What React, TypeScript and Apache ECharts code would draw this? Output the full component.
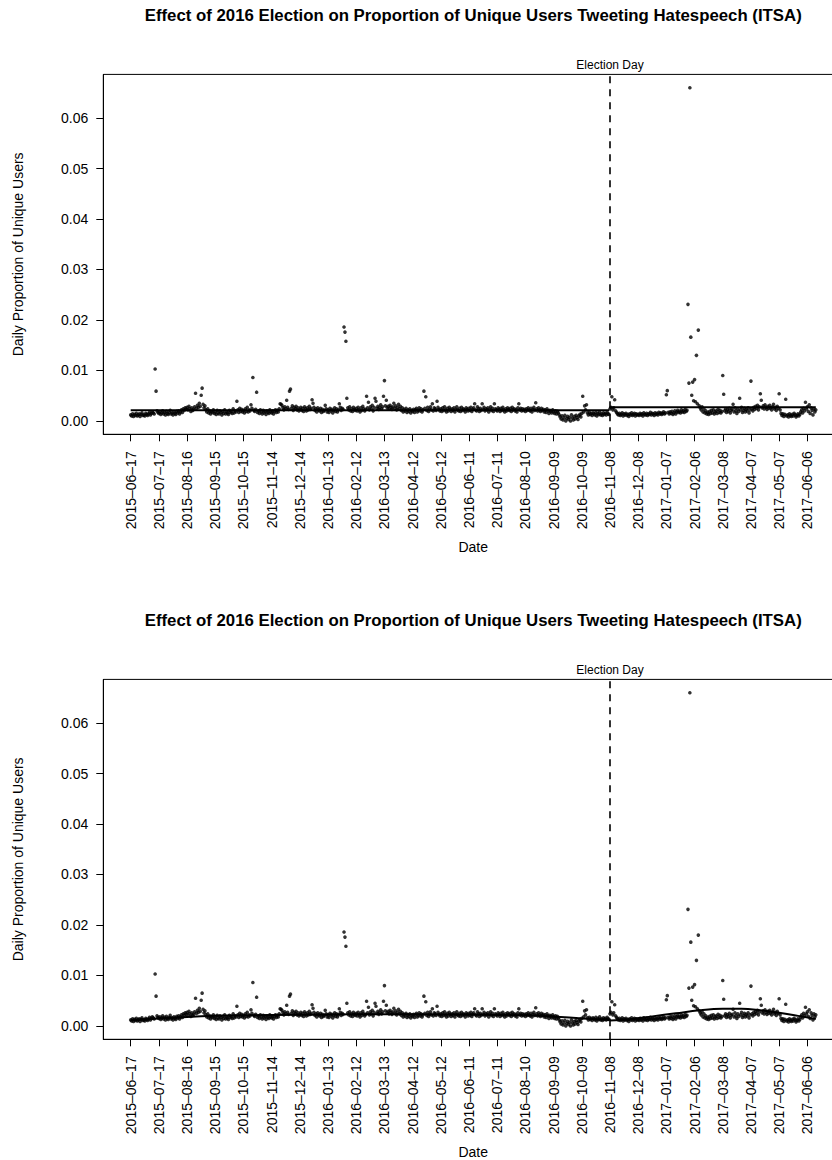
import React, { useEffect, useRef } from "react";
import * as echarts from "echarts";

const TITLE = "Effect of 2016 Election on Proportion of Unique Users Tweeting Hatespeech (ITSA)";
const X_NAME = "Date";
const Y_NAME = "Daily Proportion of Unique Users";
const ELECTION_LABEL = "Election Day";

const startDate = "2015-06-17";
const electionDate = "2016-11-08";
const tickDates = [
  "2015-06-17", "2015-07-17", "2015-08-16", "2015-09-15", "2015-10-15", "2015-11-14", "2015-12-14",
  "2016-01-13", "2016-02-12", "2016-03-13", "2016-04-12", "2016-05-12", "2016-06-11", "2016-07-11",
  "2016-08-10", "2016-09-09", "2016-10-09", "2016-11-08", "2016-12-08", "2017-01-07", "2017-02-06",
  "2017-03-08", "2017-04-07", "2017-05-07", "2017-06-06",
];
const yTicks = [0, 0.01, 0.02, 0.03, 0.04, 0.05, 0.06];

// daily proportion, in units of 1e-4 (one value per day from 2015-06-17)
const dailyE4 = [
  12, 10, 14, 9, 13, 11, 15, 10, 12, 14, 9, 13, 16, 11, 12, 10, 15, 13, 11, 14, 17, 12, 15, 18, 16, 14, 103, 59, 20, 17,
  15, 18, 13, 16, 20, 14, 17, 12, 19, 15, 13, 17, 21, 14, 16, 12, 18, 15, 13, 19, 16, 20, 14, 18, 22, 17, 24, 21, 26, 23,
  27, 22, 29, 24, 19, 26, 21, 23, 28, 55, 25, 31, 27, 35, 29, 51, 65, 33, 26, 30, 22, 18, 24, 16, 20, 14, 19, 17, 22, 15,
  18, 13, 21, 16, 14, 20, 17, 12, 19, 15, 22, 14, 18, 16, 13, 21, 17, 19, 15, 24, 16, 20, 18, 39, 22, 17, 25, 19, 23, 18,
  21, 16, 24, 19, 27, 18, 22, 20, 32, 25, 86, 21, 19, 23, 57, 17, 20, 15, 22, 18, 14, 21, 16, 19, 13, 20, 17, 15, 22, 18,
  16, 20, 14, 19, 22, 17, 21, 18, 24, 34, 33, 31, 26, 22, 28, 24, 41, 27, 23, 59, 63, 25, 30, 21, 27, 24, 29, 22, 26, 20,
  23, 27, 21, 25, 19, 28, 24, 20, 26, 22, 29, 23, 25, 42, 35, 27, 21, 24, 18, 26, 22, 20, 25, 17, 23, 19, 21, 31, 24, 18,
  22, 17, 25, 20, 23, 16, 21, 26, 19, 24, 18, 22, 34, 27, 21, 25, 23, 186, 176, 158, 45, 26, 22, 28, 20, 24, 19, 27, 23, 21,
  25, 20, 27, 22, 18, 26, 21, 29, 24, 20, 23, 49, 26, 37, 22, 28, 24, 31, 20, 27, 45, 39, 25, 29, 23, 27, 32, 24, 28, 49,
  80, 30, 41, 26, 29, 24, 31, 27, 23, 28, 35, 25, 30, 22, 27, 33, 24, 29, 21, 26, 18, 23, 20, 25, 17, 22, 19, 24, 16, 21,
  19, 23, 17, 22, 25, 18, 21, 26, 20, 24, 18, 22, 59, 25, 48, 21, 27, 19, 23, 28, 22, 34, 20, 26, 24, 21, 39, 27, 23, 20,
  24, 19, 26, 21, 28, 22, 18, 25, 20, 27, 23, 19, 24, 21, 26, 18, 23, 28, 22, 20, 25, 19, 27, 21, 24, 22, 18, 26, 23, 20,
  25, 21, 27, 19, 23, 26, 34, 22, 20, 28, 24, 19, 25, 21, 34, 23, 27, 20, 24, 22, 26, 18, 23, 28, 21, 25, 19, 34, 24, 22,
  20, 26, 23, 19, 25, 21, 27, 22, 18, 24, 20, 26, 23, 21, 25, 19, 27, 22, 24, 20, 23, 18, 26, 34, 22, 25, 20, 24, 21, 23,
  19, 24, 21, 26, 22, 20, 25, 18, 23, 27, 21, 36, 24, 20, 26, 22, 19, 25, 21, 23, 18, 22, 17, 24, 20, 15, 21, 19, 16, 22,
  18, 15, 20, 14, 19, 16, 12, 8, 4, 10, 2, 6, 11, 0, 5, 9, 3, 7, 0, 12, 6, 2, 9, 4, 11, 7, 3, 10, 13, 8,
  15, 49, 18, 30, 22, 32, 16, 12, 17, 13, 15, 11, 16, 14, 12, 17, 10, 15, 13, 18, 12, 14, 11, 16, 13, 15, 12, 17, 14, 13,
  24, 27, 48, 22, 26, 42, 20, 17, 14, 12, 15, 11, 13, 16, 10, 14, 12, 15, 11, 13, 9, 14, 12, 16, 11, 13, 15, 10, 14, 12,
  13, 11, 15, 12, 14, 10, 16, 13, 12, 15, 11, 14, 13, 17, 12, 15, 14, 11, 16, 13, 15, 12, 17, 14, 16, 13, 15, 18, 14, 16,
  52, 60, 17, 14, 18, 15, 19, 13, 16, 20, 14, 18, 21, 17, 19, 16, 22, 18, 20, 17, 23, 19, 21, 231, 75, 660, 166, 51, 77, 40,
  82, 38, 130, 34, 180, 30, 26, 22, 28, 18, 24, 16, 20, 14, 17, 13, 19, 15, 21, 16, 22, 14, 18, 20, 15, 23, 17, 21, 16, 19,
  90, 53, 20, 24, 17, 22, 19, 25, 16, 21, 23, 33, 18, 26, 20, 15, 24, 19, 45, 22, 27, 17, 21, 25, 18, 23, 20, 26, 16, 22,
  79, 24, 20, 27, 23, 29, 25, 31, 22, 28, 54, 41, 26, 30, 24, 32, 27, 23, 29, 25, 31, 26, 22, 28, 33, 24, 27, 21, 29, 25,
  54, 22, 15, 11, 14, 9, 13, 43, 10, 12, 8, 14, 11, 9, 13, 10, 15, 12, 8, 11, 14, 10, 13, 18, 22, 16, 25, 20, 37, 24,
  28, 19, 32, 15, 26, 21, 12, 24, 18, 22,
];

// ITSA segmented fit (top panel)
const preLevel = 0.0021;
const postLevel = 0.0027;

// smooth fit knots (bottom panel): day index since start, values in 1e-4 units
const smoothPreDays = [0, 30, 60, 90, 120, 180, 240, 300, 360, 420, 450, 480, 509];
const smoothPreE4 = [12, 15, 18, 20, 21, 22, 23, 23, 22.5, 21, 19, 15, 12];
const smoothPostDays = [510, 530, 555, 580, 605, 630, 650, 670, 690, 710, 729];
const smoothPostE4 = [11, 13, 19, 25, 31, 34, 34, 31, 26, 20, 14];

const FONT = "'Liberation Sans', Arial, Helvetica, sans-serif";
const W = 832;
const H = 1160;
const PANEL_OFFSET = 605;
const GRID_LEFT = 103.3;
const GRID_TOP = 74.4;
const GRID_W = 739.9;
const GRID_H = 359.9;
const X_PAD_DAYS = 29.16;
const Y_MIN = -0.00264;
const Y_MAX = 0.06864;

const DAY = 86400000;
const toTs = (s: string) => Date.parse(s + "T00:00:00Z");

export default function App() {
  const ref = useRef<HTMLDivElement>(null);

  useEffect(() => {
    document.body.style.margin = "0";
    if (!ref.current) return;
    const chart = echarts.init(ref.current, null, { renderer: "svg" });

    const t0 = toTs(startDate);
    const tElection = toTs(electionDate);
    const dayTs = (d: number) => t0 + d * DAY;
    const points = dailyE4.map((v, i) => [dayTs(i), v / 10000]);
    const lastDay = dailyE4.length - 1;
    const tickTs = tickDates.map(toTs);
    const xMin = t0 - X_PAD_DAYS * DAY;
    const xMax = dayTs(lastDay) + X_PAD_DAYS * DAY;

    const xAxisBase = (gridIndex: number) => ({
      type: "value",
      gridIndex,
      position: "bottom",
      min: xMin,
      max: xMax,
      scale: true,
      splitLine: { show: false },
      axisLine: { show: true, onZero: false, lineStyle: { color: "#000", width: 1 } },
      axisTick: {
        show: true,
        customValues: tickTs,
        length: 7,
        lineStyle: { color: "#000", width: 1 },
      },
      axisLabel: {
        show: true,
        customValues: tickTs,
        rotate: 90,
        margin: 17,
        color: "#000",
        fontSize: 14,
        fontFamily: FONT,
        formatter: (v: number) => {
          let best = 0;
          for (let i = 1; i < tickTs.length; i++) {
            if (Math.abs(tickTs[i] - v) < Math.abs(tickTs[best] - v)) best = i;
          }
          return tickDates[best].replace(/-/g, "–");
        },
      },
    });

    const yAxisBase = (gridIndex: number) => ({
      type: "value",
      gridIndex,
      position: "left",
      min: Y_MIN,
      max: Y_MAX,
      splitLine: { show: false },
      axisLine: { show: true, onZero: false, lineStyle: { color: "#000", width: 1 } },
      axisTick: {
        show: true,
        customValues: yTicks,
        length: 7,
        lineStyle: { color: "#000", width: 1 },
      },
      axisLabel: {
        show: true,
        customValues: yTicks,
        margin: 15,
        color: "#000",
        fontSize: 14,
        fontFamily: FONT,
        formatter: (v: number) => v.toFixed(2),
      },
    });

    const electionMark = {
      silent: true,
      symbol: ["none", "none"],
      animation: false,
      lineStyle: { type: [7, 6], color: "#000", width: 1.6 },
      label: {
        show: true,
        position: "end",
        formatter: ELECTION_LABEL,
        color: "#000",
        fontSize: 12,
        fontFamily: FONT,
        distance: 3,
      },
      data: [{ xAxis: tElection }],
    };

    const scatterSeries = (idx: number) => ({
      type: "scatter",
      xAxisIndex: idx,
      yAxisIndex: idx,
      data: points,
      symbol: "circle",
      symbolSize: 3.6,
      itemStyle: { color: "#000" },
      silent: true,
      markLine: electionMark,
      z: 3,
    });

    const lineSeries = (idx: number, data: number[][], smooth: boolean) => ({
      type: "line",
      xAxisIndex: idx,
      yAxisIndex: idx,
      data,
      smooth: smooth ? 0.4 : false,
      showSymbol: false,
      symbol: "none",
      lineStyle: { color: "#000", width: 2 },
      silent: true,
      z: 4,
    });

    const panelTexts = (offset: number) => [
      {
        type: "text",
        x: GRID_LEFT + GRID_W / 2,
        y: 15 + offset,
        style: {
          text: TITLE,
          fill: "#000",
          font: `bold 16.8px ${FONT}`,
          textAlign: "center",
          textVerticalAlign: "middle",
        },
      },
      {
        type: "text",
        x: GRID_LEFT + GRID_W / 2,
        y: 547 + offset,
        style: {
          text: X_NAME,
          fill: "#000",
          font: `14px ${FONT}`,
          textAlign: "center",
          textVerticalAlign: "middle",
        },
      },
      {
        type: "text",
        x: 18,
        y: GRID_TOP + GRID_H / 2 + offset,
        rotation: Math.PI / 2,
        style: {
          text: Y_NAME,
          fill: "#000",
          font: `14px ${FONT}`,
          textAlign: "center",
          textVerticalAlign: "middle",
        },
      },
    ];

    const gridBase = {
      left: GRID_LEFT,
      width: GRID_W,
      height: GRID_H,
      show: true,
      borderColor: "#000",
      borderWidth: 1,
      backgroundColor: "transparent",
      containLabel: false,
      outerBoundsMode: "none",
    };

    const option = {
      animation: false,
      backgroundColor: "#fff",
      grid: [
        { ...gridBase, top: GRID_TOP },
        { ...gridBase, top: GRID_TOP + PANEL_OFFSET },
      ],
      xAxis: [xAxisBase(0), xAxisBase(1)],
      yAxis: [yAxisBase(0), yAxisBase(1)],
      series: [
        scatterSeries(0),
        lineSeries(0, [[dayTs(0), preLevel], [tElection - DAY, preLevel]], false),
        lineSeries(0, [[tElection, postLevel], [dayTs(lastDay), postLevel]], false),
        scatterSeries(1),
        lineSeries(1, smoothPreDays.map((d, i) => [dayTs(d), smoothPreE4[i] / 10000]), true),
        lineSeries(1, smoothPostDays.map((d, i) => [dayTs(d), smoothPostE4[i] / 10000]), true),
      ],
      graphic: [...panelTexts(0), ...panelTexts(PANEL_OFFSET)],
    };

    chart.setOption(option as any);
    return () => {
      chart.dispose();
    };
  }, []);

  return <div ref={ref} style={{ width: W, height: H }} />;
}
